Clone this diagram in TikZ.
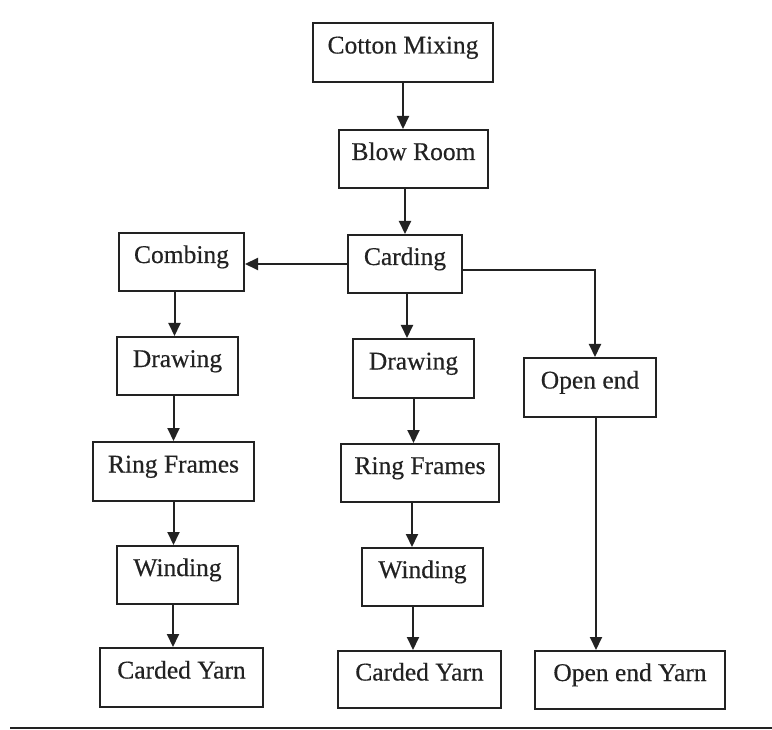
\documentclass[tikz,border=0pt]{standalone}
\usepackage{fontspec}
\setmainfont{Liberation Serif}[FakeBold=0.4]
\usetikzlibrary{arrows.meta}
\definecolor{ink}{HTML}{222222}
\tikzset{
  box/.style={draw=ink, line width=2pt, inner sep=0pt, text height=17pt, text depth=15pt,
    font=\fontsize{25.5}{30}\selectfont, text=ink},
  arr/.style={draw=ink, line width=2pt, -{Triangle[length=13pt,width=12pt]}},
}
\begin{document}
\begin{tikzpicture}[x=1pt,y=-1pt]
\useasboundingbox (0,0) rectangle (772,730);
\node[box, minimum width=180pt, minimum height=59pt] (cm) at (403,52.5) {Cotton Mixing};
\node[box, minimum width=149pt, minimum height=58pt] (br) at (413.5,159) {Blow Room};
\node[box, minimum width=114pt, minimum height=58pt] (ca) at (405,264) {Carding};
\node[box, minimum width=125pt, minimum height=58pt] (co) at (181.5,262) {Combing};
\node[box, minimum width=121pt, minimum height=58pt] (dl) at (177.5,366) {Drawing};
\node[box, minimum width=121pt, minimum height=59pt] (dm) at (413.5,368.5) {Drawing};
\node[box, minimum width=132pt, minimum height=59pt] (oe) at (590,387.5) {Open end};
\node[box, minimum width=161pt, minimum height=59pt] (rl) at (173.5,471.5) {Ring Frames};
\node[box, minimum width=158pt, minimum height=58pt] (rm) at (420,473) {Ring Frames};
\node[box, minimum width=121pt, minimum height=58pt] (wl) at (177.5,575) {Winding};
\node[box, minimum width=121pt, minimum height=58pt] (wm) at (422.5,577) {Winding};
\node[box, minimum width=163pt, minimum height=59pt] (yl) at (181.5,677.5) {Carded Yarn};
\node[box, minimum width=163pt, minimum height=57pt] (ym) at (419.5,679.5) {Carded Yarn};
\node[box, minimum width=190pt, minimum height=58pt] (oy) at (630,680) {Open end Yarn};

\draw[arr] (cm.south) -- (cm.south |- br.north);
\draw[arr] (ca.north |- br.south) -- (ca.north);
\draw[arr] (ca.west) -- (ca.west -| co.east);
\draw[arr] ([xshift=2pt]ca.south) -- ([xshift=2pt]ca.south |- dm.north);
\draw[arr] ([yshift=-6pt]ca.east) -| ([xshift=5pt]oe.north);
\draw[arr] ([xshift=-7pt]co.south) -- ([xshift=-7pt]co.south |- dl.north);
\draw[arr] (rl.north |- dl.south) -- (rl.north);
\draw[arr] (rl.south) -- (rl.south |- wl.north);
\draw[arr] ([xshift=-4.5pt]wl.south) -- ([xshift=-4.5pt]wl.south |- yl.north);
\draw[arr] (dm.south) -- (dm.south |- rm.north);
\draw[arr] ([xshift=-8pt]rm.south) -- ([xshift=-8pt]rm.south |- wm.north);
\draw[arr] ([xshift=-9.5pt]wm.south) -- ([xshift=-9.5pt]wm.south |- ym.north);
\draw[arr] ([xshift=6pt]oe.south) -- ([xshift=6pt]oe.south |- oy.north);

\draw[draw=ink, line width=2.5pt] (10,728) -- (772,728);
\end{tikzpicture}
\end{document}
